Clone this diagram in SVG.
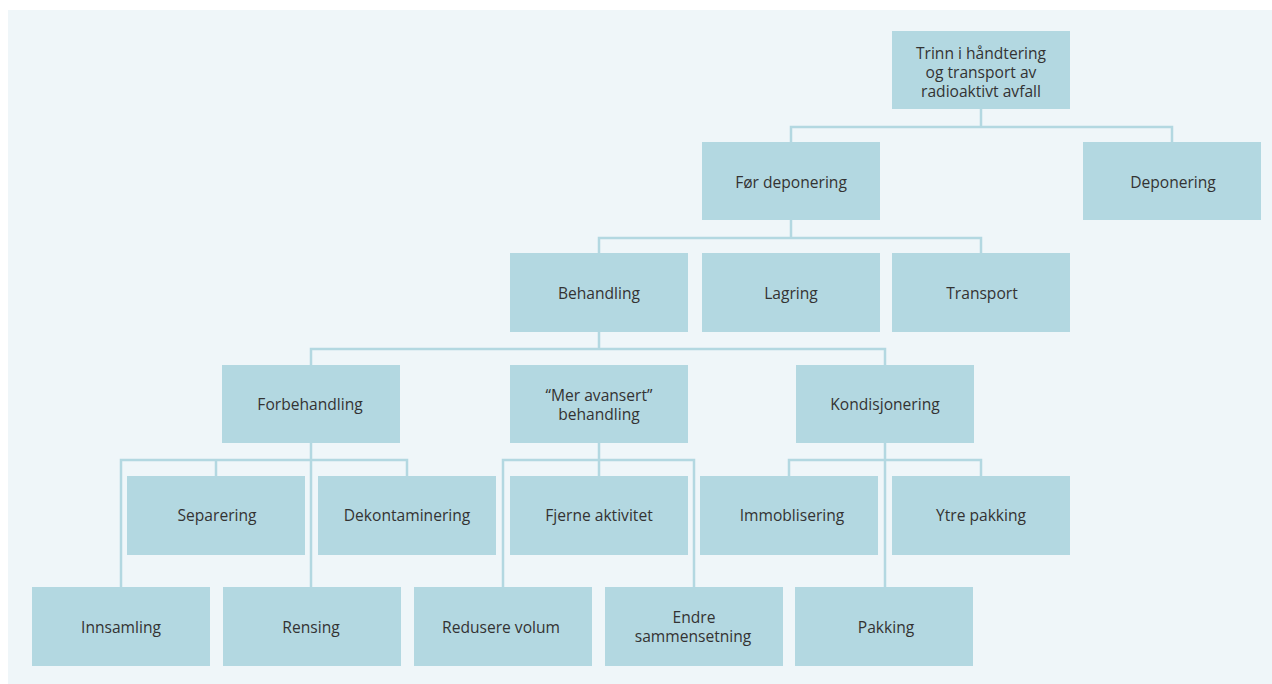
<svg xmlns="http://www.w3.org/2000/svg" width="1272" height="684" viewBox="0 0 1272 684">
<style>
.bg{fill:#eff6f9}
.box{fill:#b3d8e1}
.t{font-family:"Open Sans","Noto Sans","Liberation Sans",sans-serif;font-size:15.6px;fill:#333;text-anchor:middle;dominant-baseline:central}
.c{fill:none;stroke:#b3d8e1;stroke-width:2.5}
</style>
<rect x="0" y="0" width="1272" height="684" fill="#ffffff"/>
<rect class="bg" x="8" y="10" width="1264" height="674"/>
<g id="connectors">
<path class="c" d="M981 109V127M791 142V127H1172V142"/>
<path class="c" d="M791 220V238M599 253V238H981V253"/>
<path class="c" d="M599 332V349M311 365V349H885V365"/>
<path class="c" d="M311 443V587M121 587V460H407V476M216 460V476"/>
<path class="c" d="M599 443V476M503 587V460H694V587"/>
<path class="c" d="M885 443V587M789 476V460H981V476"/>
</g>
<g id="n-root"><rect class="box" x="892" y="31" width="178" height="78"/><text class="t" x="981" y="53">Trinn i håndtering</text><text class="t" x="981" y="72">og transport av</text><text class="t" x="981" y="91">radioaktivt avfall</text></g>
<g id="n-for"><rect class="box" x="702" y="142" width="178" height="78"/><text class="t" x="791" y="182">Før deponering</text></g>
<g id="n-dep"><rect class="box" x="1083" y="142" width="178" height="78"/><text class="t" x="1173" y="182">Deponering</text></g>
<g id="n-beh"><rect class="box" x="510" y="253" width="178" height="79"/><text class="t" x="599" y="293">Behandling</text></g>
<g id="n-lag"><rect class="box" x="702" y="253" width="178" height="79"/><text class="t" x="791" y="293">Lagring</text></g>
<g id="n-tra"><rect class="box" x="892" y="253" width="178" height="79"/><text class="t" x="982" y="293">Transport</text></g>
<g id="n-forb"><rect class="box" x="222" y="365" width="178" height="78"/><text class="t" x="310" y="404">Forbehandling</text></g>
<g id="n-mer"><rect class="box" x="510" y="365" width="178" height="78"/><text class="t" x="599" y="395">“Mer avansert”</text><text class="t" x="599" y="414">behandling</text></g>
<g id="n-kon"><rect class="box" x="796" y="365" width="178" height="78"/><text class="t" x="885" y="404">Kondisjonering</text></g>
<g id="n-sep"><rect class="box" x="127" y="476" width="178" height="79"/><text class="t" x="217" y="515">Separering</text></g>
<g id="n-dek"><rect class="box" x="318" y="476" width="178" height="79"/><text class="t" x="407" y="515">Dekontaminering</text></g>
<g id="n-fje"><rect class="box" x="510" y="476" width="178" height="79"/><text class="t" x="599" y="515">Fjerne aktivitet</text></g>
<g id="n-imm"><rect class="box" x="700" y="476" width="178" height="79"/><text class="t" x="792" y="515">Immoblisering</text></g>
<g id="n-ytr"><rect class="box" x="892" y="476" width="178" height="79"/><text class="t" x="981" y="515">Ytre pakking</text></g>
<g id="n-inn"><rect class="box" x="32" y="587" width="178" height="79"/><text class="t" x="121" y="627">Innsamling</text></g>
<g id="n-ren"><rect class="box" x="223" y="587" width="178" height="79"/><text class="t" x="311" y="627">Rensing</text></g>
<g id="n-red"><rect class="box" x="414" y="587" width="178" height="79"/><text class="t" x="501" y="627">Redusere volum</text></g>
<g id="n-end"><rect class="box" x="605" y="587" width="178" height="79"/><text class="t" x="694" y="617">Endre</text><text class="t" x="693" y="636">sammensetning</text></g>
<g id="n-pak"><rect class="box" x="795" y="587" width="178" height="79"/><text class="t" x="886" y="627">Pakking</text></g>
</svg>
